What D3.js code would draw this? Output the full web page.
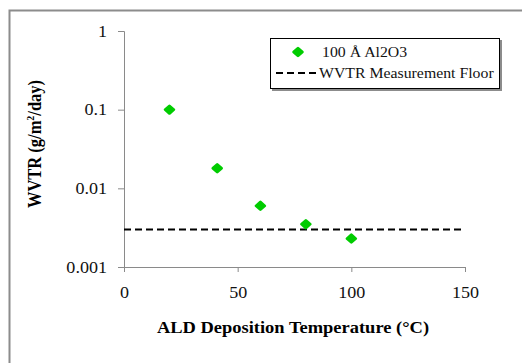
<!DOCTYPE html>
<html>
<head>
<meta charset="utf-8">
<script src="https://cdn.jsdelivr.net/npm/d3@7"></script>
<style>
  body { margin: 0; background: #fff; }
</style>
</head>
<body>
<script>
// data
var temps = [20, 41, 60, 80, 100];
var wvtr = [0.1, 0.018, 0.006, 0.0035, 0.0023];
var floorValue = 0.003;
var xTicks = [0, 50, 100, 150];
var yTicks = [0.001, 0.01, 0.1, 1];
var seriesNames = ["100 \u00c5 Al2O3", "WVTR Measurement Floor"];

var W = 522, H = 363;
var FONT = "'Liberation Serif', 'Times New Roman', serif";
var sx = 1.13; // the original picture is a bit wider than tall
var green = "#00cc00";
var axisColor = "#8a8a8a";

var svg = d3.select("body").append("svg")
    .attr("width", W)
    .attr("height", H);

// outer frame (only top and left visible)
svg.append("path")
    .attr("d", "M9.5," + H + "V10.5H" + W)
    .attr("fill", "none")
    .attr("stroke", "#8c8c8c")
    .attr("stroke-width", 2);

var x = d3.scaleLinear().domain([0, 150]).range([124, 465]);
var y = d3.scaleLog().domain([0.001, 1]).range([267, 31]);

// x axis
var xg = svg.append("g")
    .attr("transform", "translate(0," + y(0.001) + ")")
    .call(d3.axisBottom(x).tickValues(xTicks).tickSize(5).tickPadding(15).tickFormat(d3.format("d")));
// y axis
var yg = svg.append("g")
    .attr("transform", "translate(" + x(0) + ",0)")
    .call(d3.axisLeft(y).tickValues(yTicks).tickSize(6).tickPadding(11).tickFormat(function (d) { return String(d); }));

[xg, yg].forEach(function (g) {
    g.select(".domain").attr("stroke", axisColor);
    g.selectAll(".tick line").attr("stroke", axisColor);
    g.selectAll(".tick text")
        .attr("fill", "#111")
        .style("font-size", "16px")
        .style("font-family", FONT);
});
xg.selectAll(".tick text").attr("transform", "scale(" + sx + ",1)");
yg.selectAll(".tick text")
    .attr("x", -17 / sx)
    .attr("transform", "scale(" + sx + ",1)");

// floor line
svg.append("line")
    .attr("x1", x(0))
    .attr("x2", x(150))
    .attr("y1", y(floorValue))
    .attr("y2", y(floorValue))
    .attr("stroke", "#000")
    .attr("stroke-width", 2)
    .attr("stroke-dasharray", "7,4");

// points
var diamond = d3.symbol().type(d3.symbolDiamond2).size(38);
svg.append("g")
    .selectAll("path")
    .data(temps)
    .enter()
    .append("path")
    .attr("d", diamond)
    .attr("transform", function (d, i) {
        return "translate(" + x(d) + "," + y(wvtr[i]) + ") scale(" + sx + ",1)";
    })
    .attr("fill", green)
    .attr("stroke", green)
    .attr("stroke-width", 2.5)
    .attr("stroke-linejoin", "round");

// axis titles
svg.append("text")
    .attr("transform", "translate(293,333) scale(1.12,1)")
    .attr("text-anchor", "middle")
    .attr("font-weight", "bold")
    .style("font-family", FONT)
    .style("font-size", "16.5px")
    .text("ALD Deposition Temperature (\u00b0C)");

var yt = svg.append("text")
    .attr("transform", "translate(41,144) scale(" + sx + ",1) rotate(-90)")
    .attr("text-anchor", "middle")
    .attr("font-weight", "bold")
    .style("font-family", FONT)
    .style("font-size", "16.5px");
yt.append("tspan").text("WVTR (g/m");
yt.append("tspan").attr("dy", -6).style("font-size", "10px").text("2");
yt.append("tspan").attr("dy", 6).text("/day)");

// legend
var lg = svg.append("g");
lg.append("rect")
    .attr("x", 272).attr("y", 40)
    .attr("width", 230).attr("height", 51)
    .attr("fill", "#8c8c8c");
lg.append("rect")
    .attr("x", 270.5).attr("y", 38.5)
    .attr("width", 229).attr("height", 50)
    .attr("fill", "#fff")
    .attr("stroke", "#000")
    .attr("stroke-width", 1);
lg.append("path")
    .attr("d", diamond)
    .attr("transform", "translate(298,52) scale(" + sx + ",1)")
    .attr("fill", green)
    .attr("stroke", green)
    .attr("stroke-width", 2.5)
    .attr("stroke-linejoin", "round");
lg.append("line")
    .attr("x1", 276).attr("x2", 318)
    .attr("y1", 73).attr("y2", 73)
    .attr("stroke", "#000")
    .attr("stroke-width", 2)
    .attr("stroke-dasharray", "7,4");
lg.selectAll("text.leg")
    .data(seriesNames)
    .enter()
    .append("text")
    .attr("class", "leg")
    .attr("transform", function (d, i) {
        return "translate(" + (i === 0 ? 322 : 319) + "," + (57 + i * 21) + ") scale(" + sx + ",1)";
    })
    .style("font-family", FONT)
    .style("font-size", "14px")
    .attr("fill", "#111")
    .text(function (d) { return d; });
</script>
</body>
</html>
